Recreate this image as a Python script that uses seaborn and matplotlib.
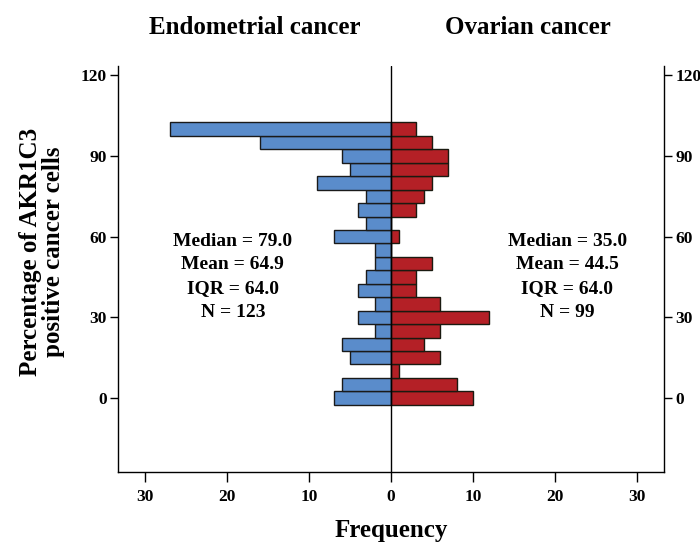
import numpy as np
import pandas as pd
import matplotlib
matplotlib.use("Agg")
import matplotlib.pyplot as plt
import seaborn as sns

# ---- data ----
bin_centers = [0, 5, 10, 15, 20, 25, 30, 35, 40, 45, 50, 55, 60, 65, 70, 75, 80, 85, 90, 95, 100]
endometrial_counts = [7, 6, 0, 5, 6, 2, 4, 2, 4, 3, 2, 2, 7, 3, 4, 3, 9, 5, 6, 16, 27]
ovarian_counts = [10, 8, 1, 6, 4, 6, 12, 6, 3, 3, 5, 0, 1, 0, 3, 4, 5, 7, 7, 5, 3]
panel_titles = ["Endometrial cancer", "Ovarian cancer"]
endo_stats = ["Median = 79.0", "Mean = 64.9", "IQR = 64.0", "N = 123"]
ova_stats = ["Median = 35.0", "Mean = 44.5", "IQR = 64.0", "N = 99"]
y_ticks = [0, 30, 60, 90, 120]
x_ticks = [-30, -20, -10, 0, 10, 20, 30]
x_ticklabels = ["30", "20", "10", "0", "10", "20", "30"]

sns.set_theme(style="white")
plt.rcParams["font.family"] = ["Liberation Serif", "DejaVu Serif"]
plt.rcParams["font.weight"] = "bold"
plt.rcParams["text.color"] = "black"
plt.rcParams["xtick.color"] = "black"
plt.rcParams["ytick.color"] = "black"

df = pd.DataFrame({
    "pct": bin_centers,
    "endo": [-c for c in endometrial_counts],
    "ova": ovarian_counts,
})

fig = plt.figure(figsize=(7.0, 5.46), dpi=100)
ax = fig.add_axes([118 / 700, 74 / 546, (664 - 118) / 700, (472 - 66) / 546])

blue = "#5a8ccb"
red = "#b42026"
sns.histplot(data=df, y="pct", weights="endo", binwidth=5, binrange=(-2.5, 102.5),
             color=blue, edgecolor="#1a1a1a", linewidth=1.0, alpha=1, ax=ax)
sns.histplot(data=df, y="pct", weights="ova", binwidth=5, binrange=(-2.5, 102.5),
             color=red, edgecolor="#1a1a10", linewidth=1.0, alpha=1, ax=ax)

ax.axvline(0, color="black", lw=1.0, zorder=5)
ax.set_xlim(-33.3, 33.3)
ax.set_ylim(-27.5, 123.5)
ax.set_xticks(x_ticks)
ax.set_xticklabels(x_ticklabels)
ax.set_yticks(y_ticks)
ax.set_xlabel("")
ax.set_ylabel("")

for s in ["left", "right", "bottom"]:
    ax.spines[s].set_visible(True)
    ax.spines[s].set_color("black")
    ax.spines[s].set_linewidth(1.0)
ax.spines["top"].set_visible(False)

ax.tick_params(axis="y", which="both", left=True, right=True, labelleft=True,
               labelright=True, direction="out", length=6, width=1,
               color="black", labelcolor="black", labelsize=12.5, pad=2)
ax.tick_params(axis="x", bottom=True, direction="out", length=7, width=1,
               color="black", labelcolor="black", labelsize=12.5, pad=5)
for lab in ax.get_xticklabels() + ax.get_yticklabels():
    lab.set_fontweight("bold")

# panel titles
ax.text(0.25, 1.0 + (66 - 27) / 406, panel_titles[0], transform=ax.transAxes,
        ha="center", va="center", fontsize=18, fontweight="bold", color="black")
ax.text(0.75, 1.0 + (66 - 27) / 406, panel_titles[1], transform=ax.transAxes,
        ha="center", va="center", fontsize=18, fontweight="bold", color="black")

# stats text
ys = [58.4, 49.5, 40.8, 32.0]
for t, yv in zip(endo_stats, ys):
    ax.text(-19.3, yv, t, ha="center", va="center", fontsize=14, fontweight="bold",
            color="black")
for t, yv in zip(ova_stats, ys):
    ax.text(21.5, yv, t, ha="center", va="center", fontsize=14, fontweight="bold",
            color="black")

fig.text(391 / 700, 1 - 530 / 546, "Frequency", ha="center", va="center",
         fontsize=18, fontweight="bold", color="black")
fig.text(42 / 700, 1 - 252 / 546, "Percentage of AKR1C3\npositive cancer cells",
         ha="center", va="center", rotation=90, fontsize=18, fontweight="bold",
         linespacing=1.05, color="black")

fig.savefig("out.png", dpi=100)
